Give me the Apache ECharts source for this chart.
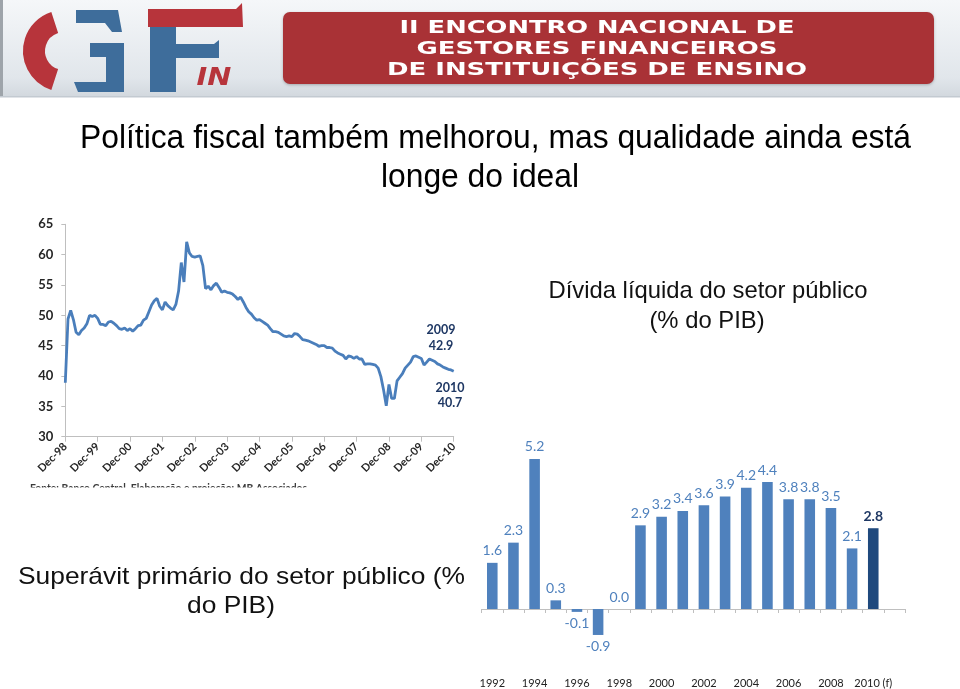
<!DOCTYPE html>
<html><head><meta charset="utf-8">
<script src="https://cdn.jsdelivr.net/npm/echarts@6/dist/echarts.min.js"></script>
<style>html,body{margin:0;padding:0;background:#fff;}#c{width:960px;height:689px;}</style>
</head><body><div id="c"></div>
<script>
// ---------- DATA ----------
// Net public debt (% GDP), monthly Dec-98 .. Dec-10
const debtValues = [
 38.9,49.4,50.8,49.3,47.2,46.8,47.5,47.9,48.6,50.0,49.8,50.0,
 49.5,48.5,48.5,48.3,48.9,49.0,48.7,48.3,47.8,47.7,47.9,47.5,
 47.8,47.4,47.8,48.3,48.4,49.2,49.5,50.6,51.7,52.4,52.8,51.5,
 50.9,52.2,51.6,51.2,50.9,51.8,54.0,58.7,55.5,62.1,60.3,59.7,
 59.6,59.7,59.8,58.2,54.4,54.8,54.2,54.9,55.3,54.6,53.8,54.0,
 53.8,53.7,53.5,53.1,52.6,53.0,52.2,51.3,50.6,50.2,49.6,49.2,
 49.3,49.0,48.7,48.4,47.8,47.3,47.3,47.2,46.9,46.6,46.5,46.6,
 46.5,47.0,46.9,46.5,46.0,45.9,45.8,45.6,45.4,45.2,44.9,45.0,
 45.0,44.7,44.7,44.6,44.1,43.8,43.6,43.4,42.8,43.3,43.2,42.9,
 43.2,42.8,42.8,41.9,42.0,42.0,41.9,41.8,41.3,39.9,37.7,35.1,
 38.6,36.3,36.3,39.2,39.8,40.4,41.3,41.8,42.3,43.2,43.3,43.1,
 42.9,41.8,42.3,42.8,42.6,42.4,42.0,41.8,41.5,41.3,41.1,41.0,
 40.8
];
const monthNames = ['Jan','Feb','Mar','Apr','May','Jun','Jul','Aug','Sep','Oct','Nov','Dec'];
const debtYAxisTicks = [30,35,40,45,50,55,60,65];
// Primary surplus (% GDP), 1992 .. 2010(f)
const surplusYears = ['1992','1993','1994','1995','1996','1997','1998','1999','2000','2001','2002','2003','2004','2005','2006','2007','2008','2009','2010 (f)',''];
const surplusValues = [1.6,2.3,5.2,0.3,-0.1,-0.9,0.0,2.9,3.2,3.4,3.6,3.9,4.2,4.4,3.8,3.8,3.5,2.1,2.8];
const annotations = [['2009','42.9'],['2010','40.7']];

// month categories Dec-98 .. Dec-10
const debtCategories = [];
for (let i = 0; i < debtValues.length; i++) {
  const mi = (11 + i) % 12;
  const yr = 1998 + Math.floor((11 + i) / 12);
  debtCategories.push(monthNames[mi] + '-' + String(yr % 100).padStart(2, '0'));
}

// ---------- helpers ----------
const mctx = document.createElement('canvas').getContext('2d');
function measure(text, font){ mctx.font = font; return mctx.measureText(text).width; }
function txt(text, x, y, o){
  const font = (o.style||'') + ' ' + (o.weight||'normal') + ' ' + o.size + 'px ' + o.family;
  const sx = o.width ? o.width / measure(text, font) : (o.scaleX || 1);
  return { type:'text', x:x, y:y, scaleX:sx, z:o.z||10, silent:true,
    style:{ text:text, x:0, y:0, font:font, fill:o.color||'#000',
      textAlign:o.align||'center', align:o.align||'center',
      textVerticalAlign:o.valign||'middle', verticalAlign:o.valign||'middle' } };
}
function scaleFor(text, o){
  const font = (o.style||'') + ' ' + (o.weight||'normal') + ' ' + o.size + 'px ' + o.family;
  return o.width / measure(text, font);
}

const RED = '#b7343b', BLUE = '#3e6d9b';
const titleFont = {size:34, family:'"Liberation Sans"', color:'#000'};
const titleScale = scaleFor('Política fiscal também melhorou, mas qualidade ainda está', Object.assign({width:831}, titleFont));
const subFont = {size:24, family:'"Liberation Sans"', color:'#111'};
const dScale = scaleFor('Dívida líquida do setor público', Object.assign({width:319}, subFont));
const sScale = scaleFor('Superávit primário do setor público (%', Object.assign({width:447}, subFont));
const bannerFont = {size:17, weight:'bold', family:'"DejaVu Sans"', color:'#ffffff', z:12};

const graphic = [
  // header background
  {type:'rect', z:1, silent:true, shape:{x:0,y:0,width:960,height:97},
   style:{fill:new echarts.graphic.LinearGradient(0,0,0,1,[{offset:0,color:'#f5f7f9'},{offset:0.8,color:'#e1e6eb'},{offset:1,color:'#d2d8de'}])}},
  {type:'rect', z:2, silent:true, shape:{x:0,y:0,width:3,height:97}, style:{fill:'#9ea4aa'}},
  {type:'rect', z:2, silent:true, shape:{x:0,y:96,width:960,height:1.5}, style:{fill:'#c3cad1'}},
  // banner
  {type:'rect', z:3, silent:true, shape:{x:283,y:12,width:651,height:72,r:7}, style:{fill:'#a93236', shadowBlur:3, shadowColor:'rgba(0,0,0,0.25)', shadowOffsetY:1}},
  txt('II ENCONTRO NACIONAL DE', 597, 28.5, Object.assign({width:395}, bannerFont)),
  txt('GESTORES FINANCEIROS', 597, 49.5, Object.assign({width:361}, bannerFont)),
  txt('DE INSTITUIÇÕES DE ENSINO', 597, 71, Object.assign({width:420}, bannerFont)),
  // logo: G
  {type:'arc', z:4, silent:true, shape:{cx:64, cy:51, r:30, startAngle:Math.PI*0.6, endAngle:Math.PI*1.4}, style:{stroke:RED, lineWidth:22, fill:null}},
  {type:'polygon', z:4, silent:true, shape:{points:[[76,10],[118,10],[122,32],[112,32],[105,23],[76,23]]}, style:{fill:BLUE}},
  {type:'polygon', z:4, silent:true, shape:{points:[[90,43],[124,43],[124,92],[78,92],[74,82],[106,82],[106,57],[90,57]]}, style:{fill:BLUE}},
  // logo: F
  {type:'rect', z:4, silent:true, shape:{x:150,y:12,width:26,height:80}, style:{fill:BLUE}},
  {type:'polygon', z:5, silent:true, shape:{points:[[148,9],[236,9],[242,3],[243,27],[148,27]]}, style:{fill:RED}},
  {type:'polygon', z:4, silent:true, shape:{points:[[150,44],[214,44],[219,40],[219,58],[150,58]]}, style:{fill:BLUE}},
  txt('IN', 214, 78, {size:25, weight:'bold', style:'italic', family:'"DejaVu Sans"', color:RED, z:6, scaleX:1.15}),
  // titles
  txt('Política fiscal também melhorou, mas qualidade ainda está', 495.5, 139, Object.assign({scaleX:titleScale}, titleFont)),
  txt('longe do ideal', 480, 178, Object.assign({scaleX:titleScale}, titleFont)),
  txt('Dívida líquida do setor público', 708, 291, Object.assign({scaleX:dScale}, subFont)),
  txt('(% do PIB)', 707, 321, Object.assign({scaleX:dScale}, subFont)),
  txt('Superávit primário do setor público (%', 241.5, 577, Object.assign({scaleX:sScale}, subFont)),
  txt('do PIB)', 231, 606, Object.assign({scaleX:sScale}, subFont)),
  // line annotations
  txt(annotations[0][0], 441, 330, {size:12.5, weight:'bold', family:'Lato', color:'#1f3864'}),
  txt(annotations[0][1], 441, 345.5, {size:12.5, weight:'bold', family:'Lato', color:'#1f3864'}),
  txt(annotations[1][0], 450, 387.5, {size:12.5, weight:'bold', family:'Lato', color:'#1f3864'}),
  txt(annotations[1][1], 450, 402.5, {size:12.5, weight:'bold', family:'Lato', color:'#1f3864'}),
  // source (cut off)
  txt('Fonte: Banco Central. Elaboração e projeção: MB Associados', 30, 482.5, {size:11, weight:'bold', family:'Lato', color:'#3a3a3a', align:'left', valign:'top', width:277}),
  {type:'rect', z:20, silent:true, shape:{x:0,y:487.5,width:468,height:14}, style:{fill:'#ffffff'}}
];

const barData = surplusValues.map(function(v, i){
  const last = i === surplusValues.length - 1;
  return { value:v,
    itemStyle:{color: last ? '#1f497d' : '#4f81bd'},
    label:{ position: v < 0 ? 'bottom' : 'top',
      color: last ? '#1f3864' : '#4f81bd', fontWeight: last ? 'bold' : 'normal' } };
});

const chart = echarts.init(document.getElementById('c'), null, {renderer:'canvas'});
chart.setOption({
  animation:false,
  backgroundColor:'#ffffff',
  graphic: graphic,
  grid:[
    {left:65.3, top:224.3, width:388.4, height:212.4, containLabel:false, outerBoundsMode:'none'},
    {left:481.7, top:435.9, width:423.3, height:230.8, containLabel:false, outerBoundsMode:'none'}
  ],
  xAxis:[
    {type:'category', gridIndex:0, data:debtCategories, boundaryGap:false,
     axisLine:{lineStyle:{color:'#bfbfbf', width:1}},
     axisTick:{show:true, interval:11, length:5, lineStyle:{color:'#bfbfbf'}},
     axisLabel:{interval:11, rotate:45, fontSize:11, fontWeight:'bold', fontFamily:'Lato', color:'#262626', margin:8},
     splitLine:{show:false}},
    // zero line with ticks
    {type:'category', gridIndex:1, data:surplusYears, boundaryGap:true, position:'bottom',
     axisLine:{onZero:true, lineStyle:{color:'#bfbfbf', width:1}},
     axisTick:{show:true, interval:0, length:4, lineStyle:{color:'#bfbfbf'}},
     axisLabel:{show:false},
     splitLine:{show:false}},
    // year labels along the bottom
    {type:'category', gridIndex:1, data:surplusYears, boundaryGap:true, position:'bottom',
     axisLine:{show:false, onZero:false}, axisTick:{show:false},
     axisLabel:{show:true, interval:1, fontSize:11, fontFamily:'Lato', color:'#222', margin:11},
     splitLine:{show:false}}
  ],
  yAxis:[
    {type:'value', gridIndex:0, min:debtYAxisTicks[0], max:debtYAxisTicks[debtYAxisTicks.length-1], interval:5,
     axisLine:{show:true, lineStyle:{color:'#bfbfbf'}},
     axisTick:{show:true, length:4, lineStyle:{color:'#bfbfbf'}},
     axisLabel:{fontSize:13, fontWeight:'bold', fontFamily:'Lato', color:'#262626', margin:12},
     splitLine:{show:false}},
    {type:'value', gridIndex:1, min:-2, max:6, show:false, splitLine:{show:false}}
  ],
  series:[
    {type:'line', xAxisIndex:0, yAxisIndex:0, data:debtValues, showSymbol:false, symbol:'none',
     lineStyle:{color:'#4a7ebb', width:2.8}, itemStyle:{color:'#4a7ebb'}},
    {type:'bar', xAxisIndex:1, yAxisIndex:1, data:barData, barWidth:'50%',
     label:{show:true, distance:5, fontSize:14, fontFamily:'Lato',
       formatter:function(p){ return p.value.toFixed(1); }}}
  ]
});
</script>
</body></html>
